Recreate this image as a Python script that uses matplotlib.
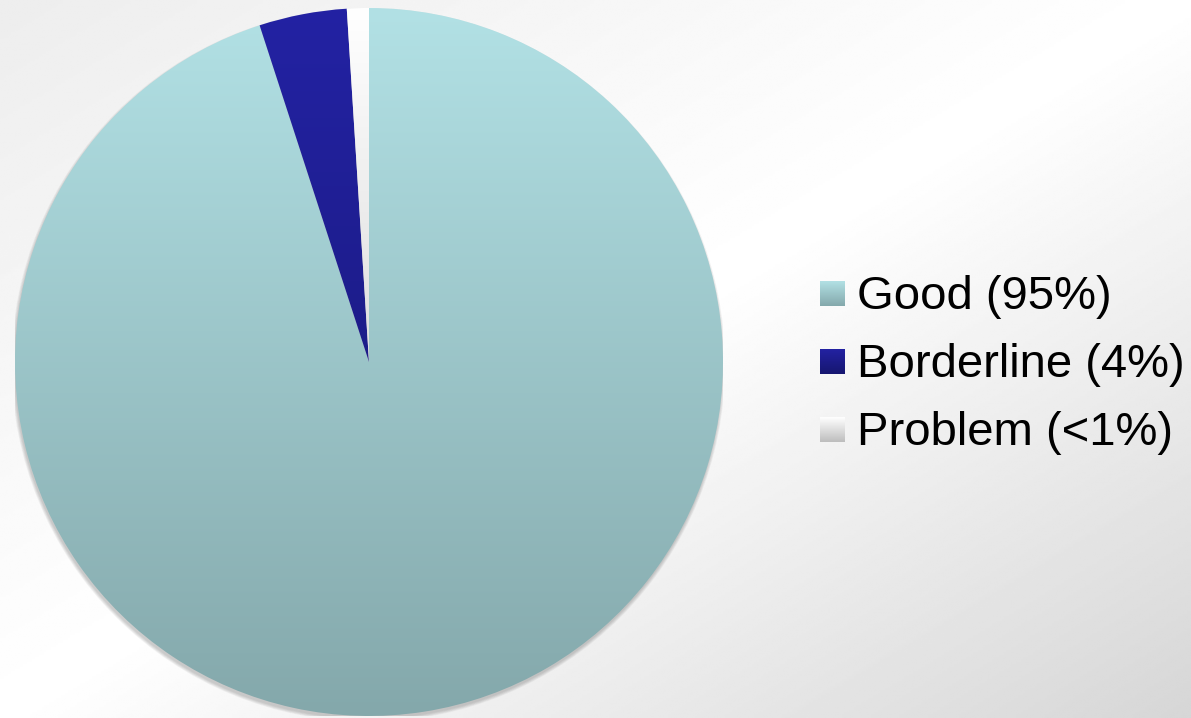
import numpy as np
import matplotlib.pyplot as plt
from matplotlib.colors import LinearSegmentedColormap
from matplotlib.patches import Circle

# Data
labels = ["Good (95%)", "Borderline (4%)", "Problem (<1%)"]
values = [95, 4, 1]
top_colors = ["#b2e1e5", "#2322a3", "#ffffff"]
bottom_colors = ["#84a8ab", "#16166f", "#bdbdbd"]

W, H = 1191, 718
fig = plt.figure(figsize=(W / 100, H / 100), dpi=100)

# Background: soft diagonal grey gradient, in pixel coordinates
bg = fig.add_axes([0, 0, 1, 1])
bg.set_xlim(0, W)
bg.set_ylim(H, 0)
bg.axis("off")
v, u = np.mgrid[0:1:300j, 0:1:500j]
d = u + v - 1
shade = 1 - 0.16 * np.clip(d, 0, None) - 0.07 * np.clip(-d, 0, None)
bg.imshow(shade, cmap="gray", vmin=0, vmax=1, extent=[0, W, H, 0],
          aspect="auto", interpolation="bilinear")

# Pie
cx, cy, r = 369, 362, 354
ax = fig.add_axes([(cx - r) / W, (H - cy - r) / H, 2 * r / W, 2 * r / H])
ax.patch.set_visible(False)

wedges, _ = ax.pie(values, startangle=90, counterclock=False, radius=1,
                   wedgeprops=dict(linewidth=0))

# soft shadow along the lower edge
for i in range(5):
    ax.add_patch(Circle((-0.002, -0.008), 1 + 0.002 * i, color="#606060",
                        alpha=0.07, lw=0, zorder=0))

grad = np.linspace(0, 1, 256).reshape(-1, 1)
for w, c0, c1 in zip(wedges, top_colors, bottom_colors):
    w.set_facecolor("none")
    w.set_edgecolor("none")
    cmap = LinearSegmentedColormap.from_list("g", [c0, c1])
    im = ax.imshow(grad, cmap=cmap, extent=[-1, 1, -1, 1], aspect="auto",
                   origin="upper", interpolation="bilinear", zorder=1)
    im.set_clip_path(w)

ax.set_xlim(-1, 1)
ax.set_ylim(-1, 1)
ax.axis("off")

# Legend drawn in pixel coordinates
lg = fig.add_axes([0, 0, 1, 1])
lg.set_xlim(0, W)
lg.set_ylim(H, 0)
lg.axis("off")
lg.patch.set_visible(False)
sq = 25
for i, (lab, c0, c1) in enumerate(zip(labels, top_colors, bottom_colors)):
    base = 309 + 68 * i
    cmap = LinearSegmentedColormap.from_list("l", [c0, c1])
    lg.imshow(grad, cmap=cmap, extent=[820, 820 + sq, base - 3, base - 3 - sq],
              aspect="auto", origin="upper", interpolation="bilinear")
    lg.text(857, base, lab, fontsize=34, family="Liberation Sans",
            ha="left", va="baseline", color="black")
lg.set_xlim(0, W)
lg.set_ylim(H, 0)

fig.savefig("out.png", dpi=100)
